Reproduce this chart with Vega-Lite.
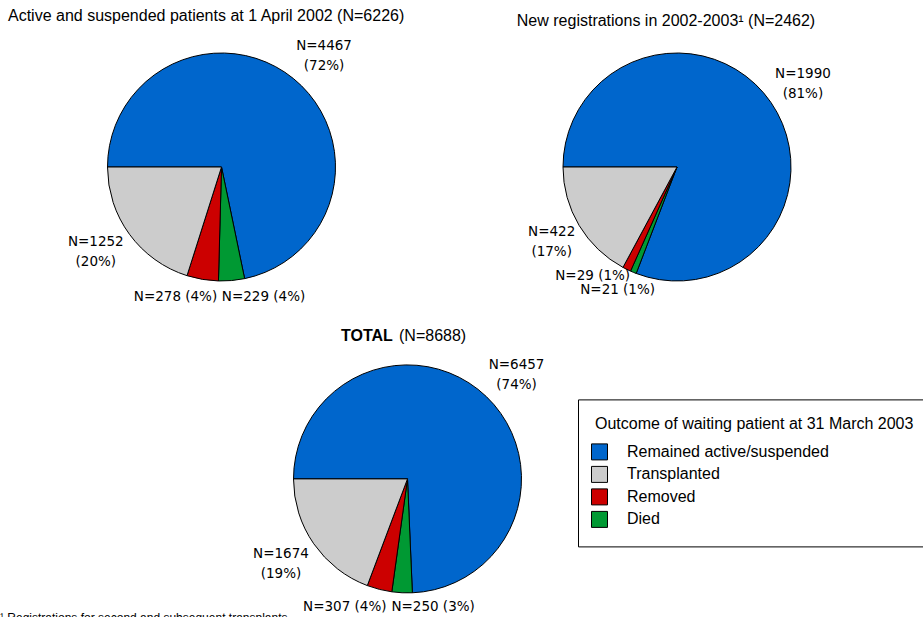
{
  "$schema": "https://vega.github.io/schema/vega-lite/v6.json",
  "background": "white",
  "padding": {"left": 0, "top": 8, "right": 0, "bottom": 0},
  "title": {"text": "¹ Registrations for second and subsequent transplants", "orient": "bottom", "anchor": "start", "frame": "bounds", "fontSize": 12, "font": "Liberation Sans", "fontWeight": "normal", "color": "black", "offset": -2},
  "datasets": {
    "p1": [
      {"outcome": "Remained active/suspended", "n": 4467, "pct": 72, "ord": 1, "label": "N=4467\n(72%)"},
      {"outcome": "Died", "n": 229, "pct": 4, "ord": 2, "label": "N=229 (4%)"},
      {"outcome": "Removed", "n": 278, "pct": 4, "ord": 3, "label": "N=278 (4%)"},
      {"outcome": "Transplanted", "n": 1252, "pct": 20, "ord": 4, "label": "N=1252\n(20%)"}
    ],
    "p2": [
      {"outcome": "Remained active/suspended", "n": 1990, "pct": 81, "ord": 1, "label": "N=1990\n(81%)"},
      {"outcome": "Died", "n": 21, "pct": 1, "ord": 2, "label": "N=21 (1%)"},
      {"outcome": "Removed", "n": 29, "pct": 1, "ord": 3, "label": "N=29 (1%)"},
      {"outcome": "Transplanted", "n": 422, "pct": 17, "ord": 4, "label": "N=422\n(17%)"}
    ],
    "p3": [
      {"outcome": "Remained active/suspended", "n": 6457, "pct": 74, "ord": 1, "label": "N=6457\n(74%)"},
      {"outcome": "Died", "n": 250, "pct": 3, "ord": 2, "label": "N=250 (3%)"},
      {"outcome": "Removed", "n": 307, "pct": 4, "ord": 3, "label": "N=307 (4%)"},
      {"outcome": "Transplanted", "n": 1674, "pct": 19, "ord": 4, "label": "N=1674\n(19%)"}
    ]
  },
  "resolve": {"scale": {"theta": "independent", "color": "independent"}, "legend": {"color": "independent"}},
  "spacing": 3.9,
  "vconcat": [
    {
      "hconcat": [
        {
          "width": 443, "height": 270,
          "data": {"name": "p1"},
          "title": {"text": "Active and suspended patients at 1 April 2002 (N=6226)", "anchor": "start", "frame": "group", "dx": 8, "offset": 2.6},
          "encoding": {
            "theta": {"field": "n", "type": "quantitative", "stack": true, "scale": {"range": [-1.5707963, 4.712389]}},
            "order": {"field": "ord", "type": "quantitative"},
            "color": {"field": "outcome", "type": "nominal", "scale": {"domain": ["Remained active/suspended", "Transplanted", "Removed", "Died"], "range": ["#0066cc", "#cccccc", "#cc0000", "#009933"]}, "legend": null}
          },
          "layer": [
            {"mark": {"type": "arc", "radius": 114, "stroke": "black", "strokeWidth": 1}},
            {"mark": {"type": "text", "radius": 153, "dx": 6, "dy": -2.75, "align": "center", "baseline": "middle", "lineBreak": "\n", "lineHeight": 20.5, "font": "DejaVu Sans", "fontSize": 13.5},
             "encoding": {"text": {"condition": {"test": "datum.ord == 1", "field": "label", "type": "nominal"}, "value": ""}, "color": {"value": "black"}}},
            {"mark": {"type": "text", "radius": 152, "dx": -3, "dy": -15.25, "align": "center", "baseline": "middle", "lineBreak": "\n", "lineHeight": 20.5, "font": "DejaVu Sans", "fontSize": 13.5},
             "encoding": {"text": {"condition": {"test": "datum.ord == 4", "field": "label", "type": "nominal"}, "value": ""}, "color": {"value": "black"}}},
            {"mark": {"type": "text", "radius": 128, "dx": 17, "dy": 3.5, "align": "right", "baseline": "middle", "font": "DejaVu Sans", "fontSize": 13.5},
             "encoding": {"text": {"condition": {"test": "datum.ord == 3", "field": "label", "type": "nominal"}, "value": ""}, "color": {"value": "black"}}},
            {"mark": {"type": "text", "radius": 128, "dx": -11, "dy": 2.5, "align": "left", "baseline": "middle", "font": "DejaVu Sans", "fontSize": 13.5},
             "encoding": {"text": {"condition": {"test": "datum.ord == 2", "field": "label", "type": "nominal"}, "value": ""}, "color": {"value": "black"}}}
          ]
        },
        {
          "width": 468, "height": 270,
          "data": {"name": "p2"},
          "title": {"text": "New registrations in 2002-2003¹ (N=2462)", "anchor": "middle", "frame": "group", "dx": -11, "offset": 2.6},
          "encoding": {
            "theta": {"field": "n", "type": "quantitative", "stack": true, "scale": {"range": [-1.5707963, 4.712389]}},
            "order": {"field": "ord", "type": "quantitative"},
            "color": {"field": "outcome", "type": "nominal", "scale": {"domain": ["Remained active/suspended", "Transplanted", "Removed", "Died"], "range": ["#0066cc", "#cccccc", "#cc0000", "#009933"]}, "legend": null}
          },
          "layer": [
            {"mark": {"type": "arc", "radius": 114, "stroke": "black", "strokeWidth": 1}},
            {"mark": {"type": "text", "radius": 151, "dx": 1.5, "dy": -7.75, "align": "center", "baseline": "middle", "lineBreak": "\n", "lineHeight": 20.5, "font": "DejaVu Sans", "fontSize": 13.5},
             "encoding": {"text": {"condition": {"test": "datum.ord == 1", "field": "label", "type": "nominal"}, "value": ""}, "color": {"value": "black"}}},
            {"mark": {"type": "text", "radius": 146, "dx": 0, "dy": -10.25, "align": "center", "baseline": "middle", "lineBreak": "\n", "lineHeight": 20.5, "font": "DejaVu Sans", "fontSize": 13.5},
             "encoding": {"text": {"condition": {"test": "datum.ord == 4", "field": "label", "type": "nominal"}, "value": ""}, "color": {"value": "black"}}},
            {"mark": {"type": "text", "radius": 117, "dx": 4.7, "dy": 4, "align": "right", "baseline": "middle", "font": "DejaVu Sans", "fontSize": 13.5},
             "encoding": {"text": {"condition": {"test": "datum.ord == 3", "field": "label", "type": "nominal"}, "value": ""}, "color": {"value": "black"}}},
            {"mark": {"type": "text", "radius": 133, "dx": 29, "dy": 0, "align": "right", "baseline": "middle", "font": "DejaVu Sans", "fontSize": 13.5},
             "encoding": {"text": {"condition": {"test": "datum.ord == 2", "field": "label", "type": "nominal"}, "value": ""}, "color": {"value": "black"}}}
          ]
        }
      ],
      "spacing": 0,
      "resolve": {"scale": {"theta": "independent", "color": "independent"}, "legend": {"color": "independent"}}
    },
    {
      "title": {"text": "(N=8688)", "anchor": "start", "frame": "group", "dx": 399, "offset": -16},
      "hconcat": [
        {
          "width": 815, "height": 272,
          "data": {"name": "p3"},
          "title": {"text": "TOTAL", "fontWeight": "bold", "anchor": "start", "frame": "group", "dx": 341, "offset": -1},
          "encoding": {
            "theta": {"field": "n", "type": "quantitative", "stack": true, "scale": {"range": [-1.5707963, 4.712389]}},
            "order": {"field": "ord", "type": "quantitative"},
            "color": {"field": "outcome", "type": "nominal", "scale": {"domain": ["Remained active/suspended", "Transplanted", "Removed", "Died"], "range": ["#0066cc", "#cccccc", "#cc0000", "#009933"]},
                      "legend": {"orient": "none", "legendX": 578, "legendY": 56.5, "title": "Outcome of waiting patient at 31 March 2003",
                                 "titleFont": "Liberation Sans", "titleFontSize": 16, "titleFontWeight": "normal", "titleColor": "black", "titlePadding": 11, "titleLimit": 500,
                                 "labelFont": "Liberation Sans", "labelFontSize": 16, "labelColor": "black", "labelOffset": 19, "labelLimit": 500,
                                 "symbolType": "square", "symbolSize": 256, "symbolStrokeColor": "black", "symbolStrokeWidth": 1, "symbolOpacity": 1, "symbolOffset": -4,
                                 "rowPadding": 1.5, "padding": 17, "strokeColor": "black", "fillColor": "white"}}
          },
          "layer": [
            {"mark": {"type": "arc", "radius": 114, "stroke": "black", "strokeWidth": 1}},
            {"mark": {"type": "text", "clip": true, "radius": 154, "dx": 2.5, "dy": -2.85, "align": "center", "baseline": "middle", "lineBreak": "\n", "lineHeight": 20.5, "font": "DejaVu Sans", "fontSize": 13.5},
             "encoding": {"text": {"condition": {"test": "datum.ord == 1", "field": "label", "type": "nominal"}, "value": ""}, "color": {"value": "black"}}},
            {"mark": {"type": "text", "clip": true, "radius": 152, "dx": -1.5, "dy": -11.75, "align": "center", "baseline": "middle", "lineBreak": "\n", "lineHeight": 20.5, "font": "DejaVu Sans", "fontSize": 13.5},
             "encoding": {"text": {"condition": {"test": "datum.ord == 4", "field": "label", "type": "nominal"}, "value": ""}, "color": {"value": "black"}}},
            {"mark": {"type": "text", "clip": true, "radius": 128, "dx": 10.6, "dy": 3.9, "align": "right", "baseline": "middle", "font": "DejaVu Sans", "fontSize": 13.5},
             "encoding": {"text": {"condition": {"test": "datum.ord == 3", "field": "label", "type": "nominal"}, "value": ""}, "color": {"value": "black"}}},
            {"mark": {"type": "text", "clip": true, "radius": 128, "dx": -10, "dy": 0.1, "align": "left", "baseline": "middle", "font": "DejaVu Sans", "fontSize": 13.5},
             "encoding": {"text": {"condition": {"test": "datum.ord == 2", "field": "label", "type": "nominal"}, "value": ""}, "color": {"value": "black"}}}
          ]
        }
      ],
      "resolve": {"scale": {"theta": "independent", "color": "independent"}, "legend": {"color": "independent"}}
    }
  ],
  "config": {
    "view": {"stroke": null},
    "title": {"font": "Liberation Sans", "fontSize": 16, "fontWeight": "normal", "color": "black"}
  }
}
